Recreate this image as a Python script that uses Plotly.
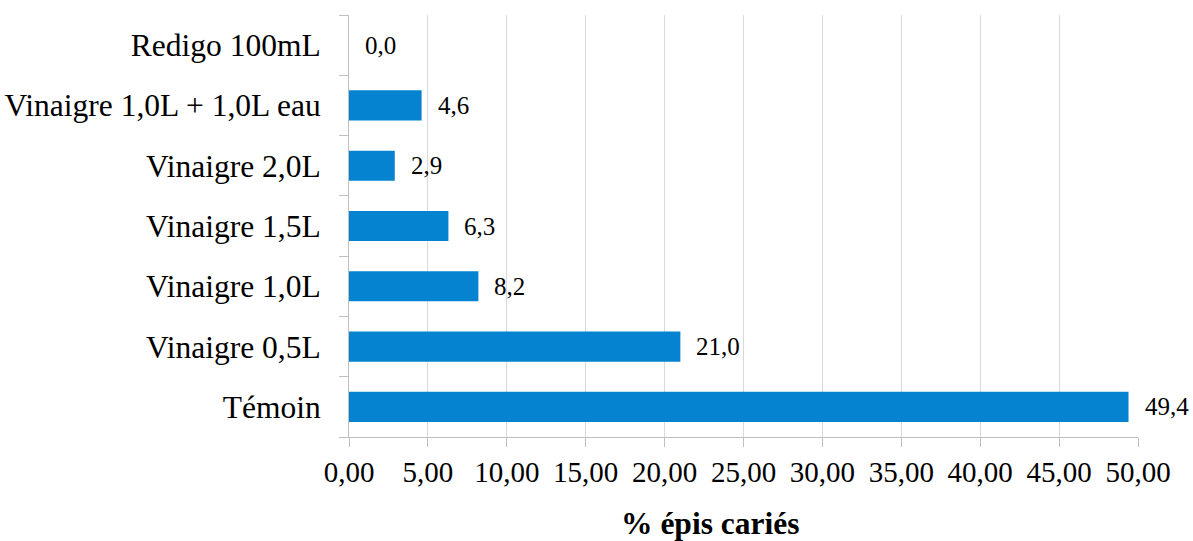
import plotly.graph_objects as go

categories = ["Témoin", "Vinaigre 0,5L", "Vinaigre 1,0L", "Vinaigre 1,5L",
              "Vinaigre 2,0L", "Vinaigre 1,0L + 1,0L eau", "Redigo 100mL"]
values = [49.4, 21.0, 8.2, 6.3, 2.9, 4.6, 0.0]
value_labels = ["49,4", "21,0", "8,2", "6,3", "2,9", "4,6", "0,0"]
x_tickvals = [0, 5, 10, 15, 20, 25, 30, 35, 40, 45, 50]
x_title = "% épis cariés"

FONT = "Liberation Serif"
BAR = "#0683d0"
GRID = "#d9d9d9"
AXIS = "#bfbfbf"

fig = go.Figure()
fig.add_trace(go.Bar(
    y=categories, x=values, orientation="h",
    marker=dict(color=BAR, line=dict(width=0)),
    width=0.5, hoverinfo="skip",
))

for c, v, t in zip(categories, values, value_labels):
    fig.add_annotation(x=v, y=c, xref="x", yref="y", text=t, showarrow=False,
                       xanchor="left", yanchor="middle", xshift=14,
                       font=dict(family=FONT, size=25, color="black"))

fig.add_annotation(x=0.4575, y=-0.205, xref="paper", yref="paper",
                   text="<b>" + x_title + "</b>", showarrow=False,
                   xanchor="center", yanchor="middle",
                   font=dict(family=FONT, size=31.5, color="black"))

fig.update_layout(
    width=1193, height=541,
    margin=dict(l=349, r=55, t=15, b=104, autoexpand=False),
    paper_bgcolor="white", plot_bgcolor="white",
    separators=", ",
    showlegend=False,
    font=dict(family=FONT, size=29, color="black"),
    bargap=0.5,
)
fig.update_xaxes(
    range=[0, 50], tickvals=x_tickvals, tickformat=".2f",
    showgrid=True, gridcolor=GRID, gridwidth=1,
    showline=True, linecolor=AXIS, linewidth=1,
    ticks="outside", ticklen=9, tickcolor=AXIS,
    zeroline=False, mirror=False, automargin=False,
    tickfont=dict(family=FONT, size=29, color="black"),
)
fig.update_yaxes(
    categoryorder="array", categoryarray=categories,
    showgrid=False, showline=True, linecolor=AXIS, linewidth=1,
    ticks="outside", ticklen=9, tickcolor=AXIS, tickson="boundaries",
    ticklabelstandoff=21, automargin=False,
    tickfont=dict(family=FONT, size=31.5, color="black"),
)

fig.write_html("out.html")
